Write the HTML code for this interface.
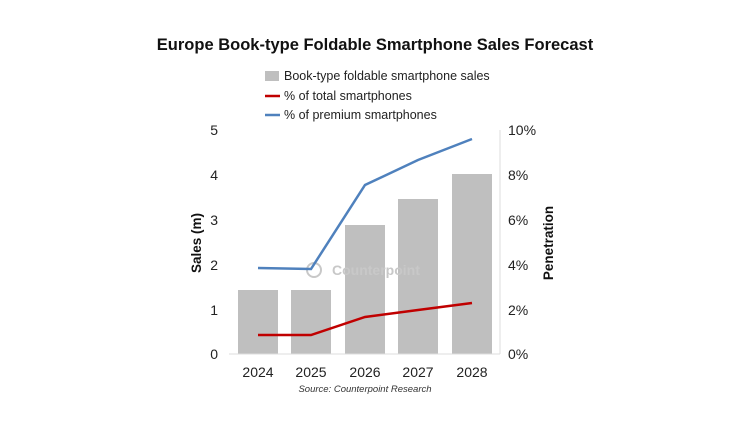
<!DOCTYPE html>
<html><head><style>body{margin:0;background:#fff}</style></head><body>
<svg width="750" height="422" xmlns="http://www.w3.org/2000/svg" font-family="Liberation Sans, sans-serif">
<text x="375" y="50" text-anchor="middle" font-size="16.5" font-weight="bold" fill="#111">Europe Book-type Foldable Smartphone Sales Forecast</text>
<rect x="265" y="71" width="14" height="10" fill="#bfbfbf"/>
<text x="284" y="80" font-size="12.5" fill="#222">Book-type foldable smartphone sales</text>
<line x1="265" y1="96" x2="280" y2="96" stroke="#c00000" stroke-width="2.5"/>
<text x="284" y="100" font-size="12.5" fill="#222">% of total smartphones</text>
<line x1="265" y1="115" x2="280" y2="115" stroke="#4f81bd" stroke-width="2.5"/>
<text x="284" y="119" font-size="12.5" fill="#222">% of premium smartphones</text>
<g fill="#bfbfbf">
<rect x="238" y="290" width="40" height="64"/>
<rect x="291" y="290" width="40" height="64"/>
<rect x="345" y="225" width="40" height="129"/>
<rect x="398" y="199" width="40" height="155"/>
<rect x="452" y="174" width="40" height="180"/>
</g>
<line x1="229" y1="354" x2="500" y2="354" stroke="#ddd"/>
<line x1="500" y1="130" x2="500" y2="354" stroke="#ddd"/>
<circle cx="314" cy="270" r="7" fill="none" stroke="#c8c8c8" stroke-width="2"/>
<text x="332" y="275" font-size="14" font-weight="bold" fill="#c8c8c8">Counterpoint</text>
<polyline points="258,268 311,269 365,185 418,160 472,139" fill="none" stroke="#4f81bd" stroke-width="2.5"/>
<polyline points="258,335 311,335 365,317 418,310 472,303" fill="none" stroke="#c00000" stroke-width="2.5"/>
<g font-size="14" fill="#222" text-anchor="end">
<text x="218" y="135">5</text><text x="218" y="180">4</text><text x="218" y="225">3</text><text x="218" y="270">2</text><text x="218" y="315">1</text><text x="218" y="359">0</text>
</g>
<g font-size="14" fill="#222">
<text x="508" y="135">10%</text><text x="508" y="180">8%</text><text x="508" y="225">6%</text><text x="508" y="270">4%</text><text x="508" y="315">2%</text><text x="508" y="359">0%</text>
</g>
<g font-size="14" fill="#222" text-anchor="middle">
<text x="258" y="377">2024</text><text x="311" y="377">2025</text><text x="365" y="377">2026</text><text x="418" y="377">2027</text><text x="472" y="377">2028</text>
</g>
<text x="365" y="392" text-anchor="middle" font-size="9.5" font-style="italic" fill="#333">Source: Counterpoint Research</text>
<text transform="translate(201,243) rotate(-90)" text-anchor="middle" font-size="13.5" font-weight="bold" fill="#111">Sales (m)</text>
<text transform="translate(553,243) rotate(-90)" text-anchor="middle" font-size="13.5" font-weight="bold" fill="#111">Penetration</text>
</svg>
</body></html>
